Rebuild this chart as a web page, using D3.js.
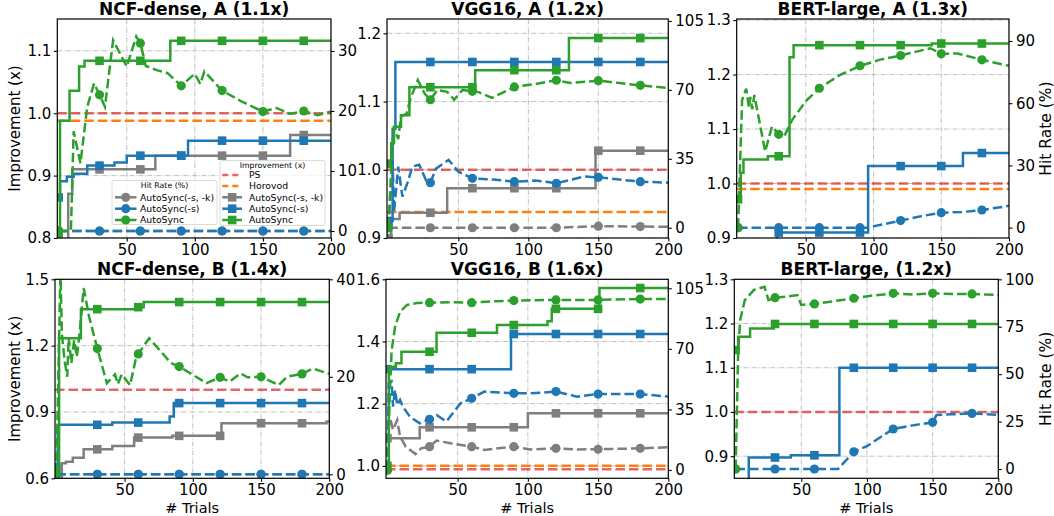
<!DOCTYPE html>
<html>
<head>
<meta charset="utf-8">
<script src="https://cdn.jsdelivr.net/npm/d3@7"></script>
<style>
  body { margin: 0; background: #fff; }
  svg { display: block; font-family: "DejaVu Sans", sans-serif; }
</style>
</head>
<body>
<div id="chart"></div>
<script>
// x axis (trials)
const trialDomain = [-1, 200];
const trialTicks = [50, 100, 150, 200];
const markerTrials = [0, 30, 60, 90, 120, 150, 180];

// ---- NCF-dense, A ----
const ncfA_ps = 1.0;
const ncfA_horovod = 0.988;
const ncfA_impGray = [[0, 0.7], [7, 0.871], [10, 0.91], [71, 0.932], [170, 0.965], [200, 0.965]];
const ncfA_impBlue = [[0, 0.865], [1, 0.891], [6, 0.898], [11, 0.903], [21, 0.916], [41, 0.921], [50, 0.932], [95, 0.956], [200, 0.956]];
const ncfA_impGreen = [[0, 0.8], [1, 0.988], [8, 1.036], [15, 1.075], [19, 1.084], [82, 1.116], [200, 1.116]];
const ncfA_hitGray = [[0, 0], [30, 0], [60, 0], [90, 0], [120, 0], [150, 0], [180, 0], [200, 0]];
const ncfA_hitBlue = [[0, 0], [30, 0], [60, 0], [90, 0], [120, 0], [150, 0], [180, 0], [200, 0]];
const ncfA_hitGreen = [[0, 0], [9, 0], [11, 16.6], [16, 11.3], [21, 20.7], [26, 24.6], [30, 22.7], [34, 20.7], [40, 31.8], [50, 27.4], [57, 32.4], [60, 31.3], [64, 27.5], [72, 26.8], [80, 26.3], [90, 24.2], [100, 26.2], [104, 24.5], [107, 26.6], [120, 23.4], [135, 21.5], [150, 19.9], [160, 20.5], [170, 19.5], [180, 20], [190, 19.3], [200, 19.9]];

// ---- VGG16, A ----
const vggA_ps = 1.0;
const vggA_horovod = 0.938;
const vggA_impGray = [[0, 0.9], [2, 0.928], [8, 0.937], [42, 0.973], [148, 1.028], [200, 1.028]];
const vggA_impBlue = [[0, 0.925], [3, 1.06], [5, 1.158], [200, 1.158]];
const vggA_impGreen = [[0, 1.009], [2, 1.039], [4, 1.063], [9, 1.08], [15, 1.121], [62, 1.146], [129, 1.193], [200, 1.193]];
const vggA_hitGray = [[0, 0], [30, 0], [60, 0], [90, 0], [120, 0], [150, 0.8], [180, 0.6], [200, 0.5]];
const vggA_hitBlue = [[0, 0], [3, 34.5], [4, 8], [7, 31], [10, 15.8], [14, 23.5], [17, 31], [22, 32], [27, 24], [30, 22.9], [34, 30], [43, 34.5], [50, 28.5], [60, 25.1], [75, 24.5], [90, 23.4], [105, 24], [120, 22.6], [140, 26], [150, 25.6], [165, 24.5], [180, 23.4], [200, 22.9]];
const vggA_hitGreen = [[0, 0], [3, 43], [4, 51], [7, 45], [9, 56.5], [13, 58], [16, 66], [21, 75], [26, 68], [30, 65], [35, 70], [42, 69], [47, 65], [53, 70], [60, 69.3], [64, 69], [74, 66], [90, 71.5], [105, 73], [120, 74.9], [130, 73.5], [150, 74.7], [165, 73.5], [180, 72.3], [200, 71]];

// ---- BERT-large, A ----
const bertA_ps = 1.0;
const bertA_horovod = 0.99;
const bertA_impBlue = [[0, 0.85], [29, 0.91], [96, 1.032], [166, 1.056], [200, 1.056]];
const bertA_impGreen = [[0, 0.971], [2, 1.02], [4, 1.044], [22, 1.05], [38, 1.232], [41, 1.254], [143, 1.257], [200, 1.257]];
const bertA_hitBlue = [[0, 0], [30, 0], [60, 0], [90, 0], [95, 0], [110, 2], [120, 3.4], [135, 5.5], [150, 7.2], [165, 7.5], [180, 8.5], [200, 10.5]];
const bertA_hitGreen = [[0, 0], [3, 61.6], [6, 67], [8, 58], [9, 63], [10.5, 57], [12, 64], [20, 36.7], [25, 48.7], [30, 45], [34, 43.9], [40, 52], [50, 61], [60, 67.2], [75, 73.5], [90, 78], [105, 81], [120, 83], [142, 86.5], [150, 83.8], [162, 84], [180, 80.9], [200, 78]];

// ---- NCF-dense, B ----
const ncfB_ps = 1.0;
const ncfB_impGray = [[0, 0.55], [4, 0.668], [7, 0.675], [12, 0.693], [20, 0.731], [41, 0.746], [57, 0.784], [85, 0.792], [121, 0.849], [198, 0.857], [200, 0.857]];
const ncfB_impBlue = [[0, 0.65], [1, 0.842], [41, 0.852], [83, 0.88], [86, 0.94], [200, 0.94]];
const ncfB_impGreen = [[0, 0.55], [2, 1.233], [18, 1.365], [58, 1.374], [64, 1.397], [200, 1.397]];
const ncfB_hitGray = [[0, 0], [30, 0], [60, 0], [90, 0], [120, 0], [150, 0], [180, 0], [200, 0]];
const ncfB_hitBlue = [[0, 0], [30, 0], [60, 0], [90, 0], [120, 0], [150, 0], [180, 0], [200, 0]];
const ncfB_hitGreen = [[0, 0], [3, 42], [4, 28.9], [6, 23.4], [8, 20], [9, 28.1], [11, 22.8], [13, 27.5], [15, 24.1], [17, 28.9], [20, 38.2], [24, 32.3], [30, 25.8], [37, 18.7], [43, 20.5], [45, 18.5], [48, 20.5], [54, 18.3], [58, 23.4], [60, 24.7], [68, 27.9], [84, 22.8], [90, 22.1], [110, 18.7], [120, 19.9], [127, 19], [135, 20.7], [140, 19.9], [150, 20], [163, 18.3], [169, 20], [180, 20.6], [188, 21.7], [200, 20.6]];

// ---- VGG16, B ----
const vggB_ps = 0.989;
const vggB_horovod = 1.0;
const vggB_impGray = [[0, 1.089], [23, 1.124], [100, 1.169], [200, 1.169]];
const vggB_impBlue = [[0, 1.311], [88, 1.424], [200, 1.424]];
const vggB_impGreen = [[0, 1.0], [1, 1.319], [6, 1.33], [10, 1.367], [35, 1.428], [78, 1.453], [114, 1.465], [117, 1.505], [151, 1.572], [200, 1.572]];
const vggB_hitGray = [[0, 0], [1, 25], [2, 30], [4, 23.1], [7, 28.9], [9, 19.3], [13, 13.5], [20, 9.2], [24, 12.5], [30, 13.5], [35, 17], [45, 15.4], [60, 13.5], [69, 11.6], [90, 13.5], [102, 11.9], [120, 12.5], [135, 11.9], [150, 12], [180, 12.5], [200, 13.1]];
const vggB_hitBlue = [[0, 0], [1, 50], [3, 51], [4, 36.6], [5.5, 46.2], [7, 37.6], [9, 40.5], [11, 36.6], [16, 30.8], [23, 27], [30, 29.3], [35, 31.8], [42, 28], [52, 38.5], [60, 41.4], [69, 45.3], [90, 44.3], [102, 44.3], [120, 45.3], [135, 42.4], [150, 43.9], [180, 43.9], [200, 42.4]];
const vggB_hitGreen = [[0, 0], [2, 50], [3, 69], [5.5, 83], [9, 91.5], [14, 95.4], [21, 96.5], [30, 96.7], [45, 97], [60, 96.7], [75, 97.5], [90, 97.9], [120, 98.3], [150, 98.3], [180, 98.8], [200, 98.8]];

// ---- BERT-large, B ----
const bertB_ps = 1.0;
const bertB_impBlue = [[0, 0.8], [10, 0.897], [42, 0.902], [79, 1.1], [200, 1.1]];
const bertB_impGreen = [[0, 1.14], [2, 1.17], [11, 1.189], [29, 1.199], [200, 1.199]];
const bertB_hitBlue = [[0, 0], [30, 0], [60, 0], [78, 0], [90, 9.1], [100, 12], [107, 15.3], [120, 21.1], [135, 23], [150, 24.6], [153, 28.5], [165, 28.8], [180, 29.3], [200, 28.5]];
const bertB_hitGreen = [[0, 0], [2, 62.7], [3.5, 78.6], [7, 89], [14, 94.4], [22, 96.1], [25, 89], [30, 90.3], [40, 91], [47, 91.7], [50, 86.5], [60, 87], [75, 88.5], [90, 90], [105, 91.5], [120, 92.6], [135, 92], [150, 92.6], [165, 92.2], [180, 92.3], [200, 91.7]];

const colors = { gray: "#7f7f7f", blue: "#1f77b4", green: "#2ca02c", ps: "#d62728", horovod: "#ff7f0e" };

const width = 1054, height = 516;
const squareSize = 8.6;
const circleRadius = 4.6;

// panel table, built from the arrays above
const panels = [
    { title: "NCF-dense, A (1.1x)", box: [57.3, 331, 19, 238],
      impDomain: [0.8, 1.151], impTicks: [0.8, 0.9, 1.0, 1.1], hitDomain: [-1.17, 35.33], hitTicks: [0, 10, 20, 30],
      ps: ncfA_ps, horovod: ncfA_horovod,
      imp: { gray: ncfA_impGray, blue: ncfA_impBlue, green: ncfA_impGreen },
      hit: { gray: ncfA_hitGray, blue: ncfA_hitBlue, green: ncfA_hitGreen },
      leftLabel: true, rightLabel: false, xLabel: false, legend: true },
    { title: "VGG16, A (1.2x)", box: [387, 668.3, 19, 238],
      impDomain: [0.9, 1.221], impTicks: [0.9, 1.0, 1.1, 1.2], hitDomain: [-5.2, 106], hitTicks: [0, 35, 70, 105],
      ps: vggA_ps, horovod: vggA_horovod,
      imp: { gray: vggA_impGray, blue: vggA_impBlue, green: vggA_impGreen },
      hit: { gray: vggA_hitGray, blue: vggA_hitBlue, green: vggA_hitGreen },
      leftLabel: false, rightLabel: false, xLabel: false, legend: false },
    { title: "BERT-large, A (1.3x)", box: [736.7, 1009, 19, 238],
      impDomain: [0.9, 1.302], impTicks: [0.9, 1.0, 1.1, 1.2, 1.3], hitDomain: [-5, 100.6], hitTicks: [0, 30, 60, 90],
      ps: bertA_ps, horovod: bertA_horovod,
      imp: { blue: bertA_impBlue, green: bertA_impGreen },
      hit: { blue: bertA_hitBlue, green: bertA_hitGreen },
      leftLabel: false, rightLabel: true, xLabel: false, legend: false },
    { title: "NCF-dense, B (1.4x)", box: [55, 329.3, 279.3, 478.3],
      impDomain: [0.6, 1.5], impTicks: [0.6, 0.9, 1.2, 1.5], hitDomain: [-0.82, 40], hitTicks: [0, 20, 40],
      ps: ncfB_ps, horovod: null,
      imp: { gray: ncfB_impGray, blue: ncfB_impBlue, green: ncfB_impGreen },
      hit: { gray: ncfB_hitGray, blue: ncfB_hitBlue, green: ncfB_hitGreen },
      leftLabel: true, rightLabel: false, xLabel: true, legend: false },
    { title: "VGG16, B (1.6x)", box: [386, 668.3, 279.3, 478.3],
      impDomain: [0.96, 1.6], impTicks: [1.0, 1.2, 1.4, 1.6], hitDomain: [-4.8, 110.2], hitTicks: [0, 35, 70, 105],
      ps: vggB_ps, horovod: vggB_horovod,
      imp: { gray: vggB_impGray, blue: vggB_impBlue, green: vggB_impGreen },
      hit: { gray: vggB_hitGray, blue: vggB_hitBlue, green: vggB_hitGreen },
      leftLabel: false, rightLabel: false, xLabel: true, legend: false },
    { title: "BERT-large, (1.2x)", box: [734.3, 998.3, 279.3, 478.3],
      impDomain: [0.85, 1.3], impTicks: [0.9, 1.0, 1.1, 1.2, 1.3], hitDomain: [-4.9, 100], hitTicks: [0, 25, 50, 75, 100],
      ps: bertB_ps, horovod: null,
      imp: { blue: bertB_impBlue, green: bertB_impGreen },
      hit: { blue: bertB_hitBlue, green: bertB_hitGreen },
      leftLabel: false, rightLabel: true, xLabel: true, legend: false }
];

const svg = d3.select("#chart").append("svg")
    .attr("width", width)
    .attr("height", height);

// value of a step series at trial t (last change point at or before t)
function stepValue(points, t) {
    let v = null;
    points.forEach(p => { if (p[0] <= t) v = p[1]; });
    return v;
}

function styleAxis(g, size) {
    g.select(".domain").remove();
    g.selectAll(".tick line").attr("stroke", "#000").attr("stroke-width", 1.1);
    g.selectAll(".tick text").attr("fill", "#000").style("font-size", size + "px")
        .style("font-family", "DejaVu Sans");
}

function drawPanel(p, i) {
    const [x0, x1, y0, y1] = p.box;
    const x = d3.scaleLinear().domain(trialDomain).range([x0, x1]);
    const yImp = d3.scaleLinear().domain(p.impDomain).range([y1, y0]);
    const yHit = d3.scaleLinear().domain(p.hitDomain).range([y1, y0]);

    const clipId = "clip-" + i;
    svg.append("clipPath").attr("id", clipId)
        .append("rect")
        .attr("x", x0).attr("y", y0)
        .attr("width", x1 - x0).attr("height", y1 - y0);

    // grid (x ticks + left axis ticks)
    const grid = svg.append("g").attr("clip-path", `url(#${clipId})`);
    grid.selectAll(".gx").data(trialTicks).enter().append("line")
        .attr("x1", d => x(d)).attr("x2", d => x(d))
        .attr("y1", y0).attr("y2", y1);
    grid.selectAll(".gy").data(p.impTicks).enter().append("line")
        .attr("x1", x0).attr("x2", x1)
        .attr("y1", d => yImp(d)).attr("y2", d => yImp(d));
    grid.selectAll("line")
        .attr("stroke", "#b0b0b0")
        .attr("stroke-width", 0.8)
        .attr("stroke-dasharray", "5,1.5,1,1.5");

    const plot = svg.append("g").attr("clip-path", `url(#${clipId})`);

    // baselines
    const flat = d3.line().x(d => x(d[0])).y(d => yImp(d[1]));
    [["ps", p.ps, 0.7], ["horovod", p.horovod, 1]].forEach(([key, v, op]) => {
        if (v === null) return;
        plot.append("path")
            .datum([[trialDomain[0], v], [200, v]])
            .attr("d", flat)
            .attr("fill", "none")
            .attr("stroke", colors[key])
            .attr("stroke-opacity", op)
            .attr("stroke-width", 2.5)
            .attr("stroke-dasharray", "9.5,4");
    });

    // improvement: step lines with square markers
    const stepLine = d3.line().x(d => x(d[0])).y(d => yImp(d[1])).curve(d3.curveStepAfter);
    ["gray", "blue", "green"].forEach(key => {
        const data = p.imp[key];
        if (!data) return;
        plot.append("path")
            .datum(data)
            .attr("d", stepLine)
            .attr("fill", "none")
            .attr("stroke", colors[key])
            .attr("stroke-width", 2.5);
        const marks = markerTrials.map(t => [t, stepValue(data, t)]).filter(d => d[1] !== null);
        plot.selectAll(null).data(marks).enter().append("rect")
            .attr("x", d => x(d[0]) - squareSize / 2)
            .attr("y", d => yImp(d[1]) - squareSize / 2)
            .attr("width", squareSize).attr("height", squareSize)
            .attr("fill", colors[key]);
    });

    // hit rate: dashed lines with circle markers (twin axis, drawn on top)
    const hitLine = d3.line().x(d => x(d[0])).y(d => yHit(d[1]));
    ["gray", "blue", "green"].forEach(key => {
        const data = p.hit[key];
        if (!data) return;
        plot.append("path")
            .datum(data)
            .attr("d", hitLine)
            .attr("fill", "none")
            .attr("stroke", colors[key])
            .attr("stroke-width", 2.5)
            .attr("stroke-dasharray", "9.5,4");
        plot.selectAll(null).data(data.filter(d => markerTrials.includes(d[0]))).enter().append("circle")
            .attr("cx", d => x(d[0]))
            .attr("cy", d => yHit(d[1]))
            .attr("r", circleRadius)
            .attr("fill", colors[key]);
    });

    // frame
    svg.append("rect")
        .attr("x", x0).attr("y", y0)
        .attr("width", x1 - x0).attr("height", y1 - y0)
        .attr("fill", "none")
        .attr("stroke", "#000")
        .attr("stroke-width", 1.2);

    // axes
    svg.append("g")
        .attr("transform", `translate(0,${y1})`)
        .call(d3.axisBottom(x).tickValues(trialTicks).tickSize(3.5).tickPadding(3))
        .call(g => styleAxis(g, 15));
    svg.append("g")
        .attr("transform", `translate(${x0},0)`)
        .call(d3.axisLeft(yImp).tickValues(p.impTicks).tickFormat(d3.format(".1f")).tickSize(3.5).tickPadding(2.5))
        .call(g => styleAxis(g, 15));
    svg.append("g")
        .attr("transform", `translate(${x1},0)`)
        .call(d3.axisRight(yHit).tickValues(p.hitTicks).tickFormat(d3.format("d")).tickSize(3.5).tickPadding(3.5))
        .call(g => styleAxis(g, 15));

    // title
    svg.append("text")
        .attr("x", (x0 + x1) / 2)
        .attr("y", y0 - 4)
        .attr("text-anchor", "middle")
        .style("font-size", "17px")
        .style("font-weight", "bold")
        .text(p.title);

    if (p.leftLabel) {
        svg.append("text")
            .attr("transform", `translate(15,${(y0 + y1) / 2}) rotate(-90)`)
            .attr("dy", "0.35em")
            .attr("text-anchor", "middle")
            .style("font-size", "15px")
            .text("Improvement (x)");
    }
    if (p.rightLabel) {
        svg.append("text")
            .attr("transform", `translate(1046,${(y0 + y1) / 2}) rotate(-90)`)
            .attr("dy", "0.35em")
            .attr("text-anchor", "middle")
            .style("font-size", "15.5px")
            .text("Hit Rate (%)");
    }
    if (p.xLabel) {
        svg.append("text")
            .attr("x", (x0 + x1) / 2)
            .attr("y", 512.5)
            .attr("text-anchor", "middle")
            .style("font-size", "14.5px")
            .text("# Trials");
    }
    if (p.legend) drawLegends();
}

function legendBox(x, y, w, h, title, entries, handleX0, handleX1, textX) {
    const g = svg.append("g");
    g.append("rect")
        .attr("x", x).attr("y", y).attr("width", w).attr("height", h)
        .attr("rx", 2)
        .attr("fill", "#fff").attr("fill-opacity", 0.8)
        .attr("stroke", "#d0d0d0").attr("stroke-width", 0.8);
    g.append("text")
        .attr("x", x + w / 2).attr("y", y + 7.5)
        .attr("text-anchor", "middle")
        .style("font-size", "7.8px")
        .text(title);
    entries.forEach(e => {
        const cy = e.cy;
        g.append("line")
            .attr("x1", handleX0).attr("x2", handleX1)
            .attr("y1", cy).attr("y2", cy)
            .attr("stroke", colors[e.key])
            .attr("stroke-opacity", e.key === "ps" ? 0.7 : 1)
            .attr("stroke-width", 2.5)
            .attr("stroke-dasharray", e.dashed ? "6,4" : null);
        const mx = (handleX0 + handleX1) / 2;
        if (e.marker === "circle") {
            g.append("circle").attr("cx", mx).attr("cy", cy).attr("r", circleRadius).attr("fill", colors[e.key]);
        } else if (e.marker === "square") {
            g.append("rect").attr("x", mx - squareSize / 2).attr("y", cy - squareSize / 2)
                .attr("width", squareSize).attr("height", squareSize).attr("fill", colors[e.key]);
        }
        g.append("text")
            .attr("x", textX).attr("y", cy)
            .attr("dy", "0.35em")
            .style("font-size", "9.3px")
            .text(e.label);
    });
}

function drawLegends() {
    legendBox(112, 180.5, 105, 44, "Hit Rate (%)", [
        { key: "gray", label: "AutoSync(-s, -k)", marker: "circle", cy: 197.3 },
        { key: "blue", label: "AutoSync(-s)", marker: "circle", cy: 208.7 },
        { key: "green", label: "AutoSync", marker: "circle", cy: 220 }
    ], 115, 136.5, 140);
    legendBox(220, 160.5, 105, 65, "Improvement (x)", [
        { key: "ps", label: "PS", dashed: true, cy: 175 },
        { key: "horovod", label: "Horovod", dashed: true, cy: 186 },
        { key: "gray", label: "AutoSync(-s, -k)", marker: "square", cy: 197.3 },
        { key: "blue", label: "AutoSync(-s)", marker: "square", cy: 208.7 },
        { key: "green", label: "AutoSync", marker: "square", cy: 220 }
    ], 222.3, 242, 249);
}

panels.forEach(drawPanel);
</script>
</body>
</html>
